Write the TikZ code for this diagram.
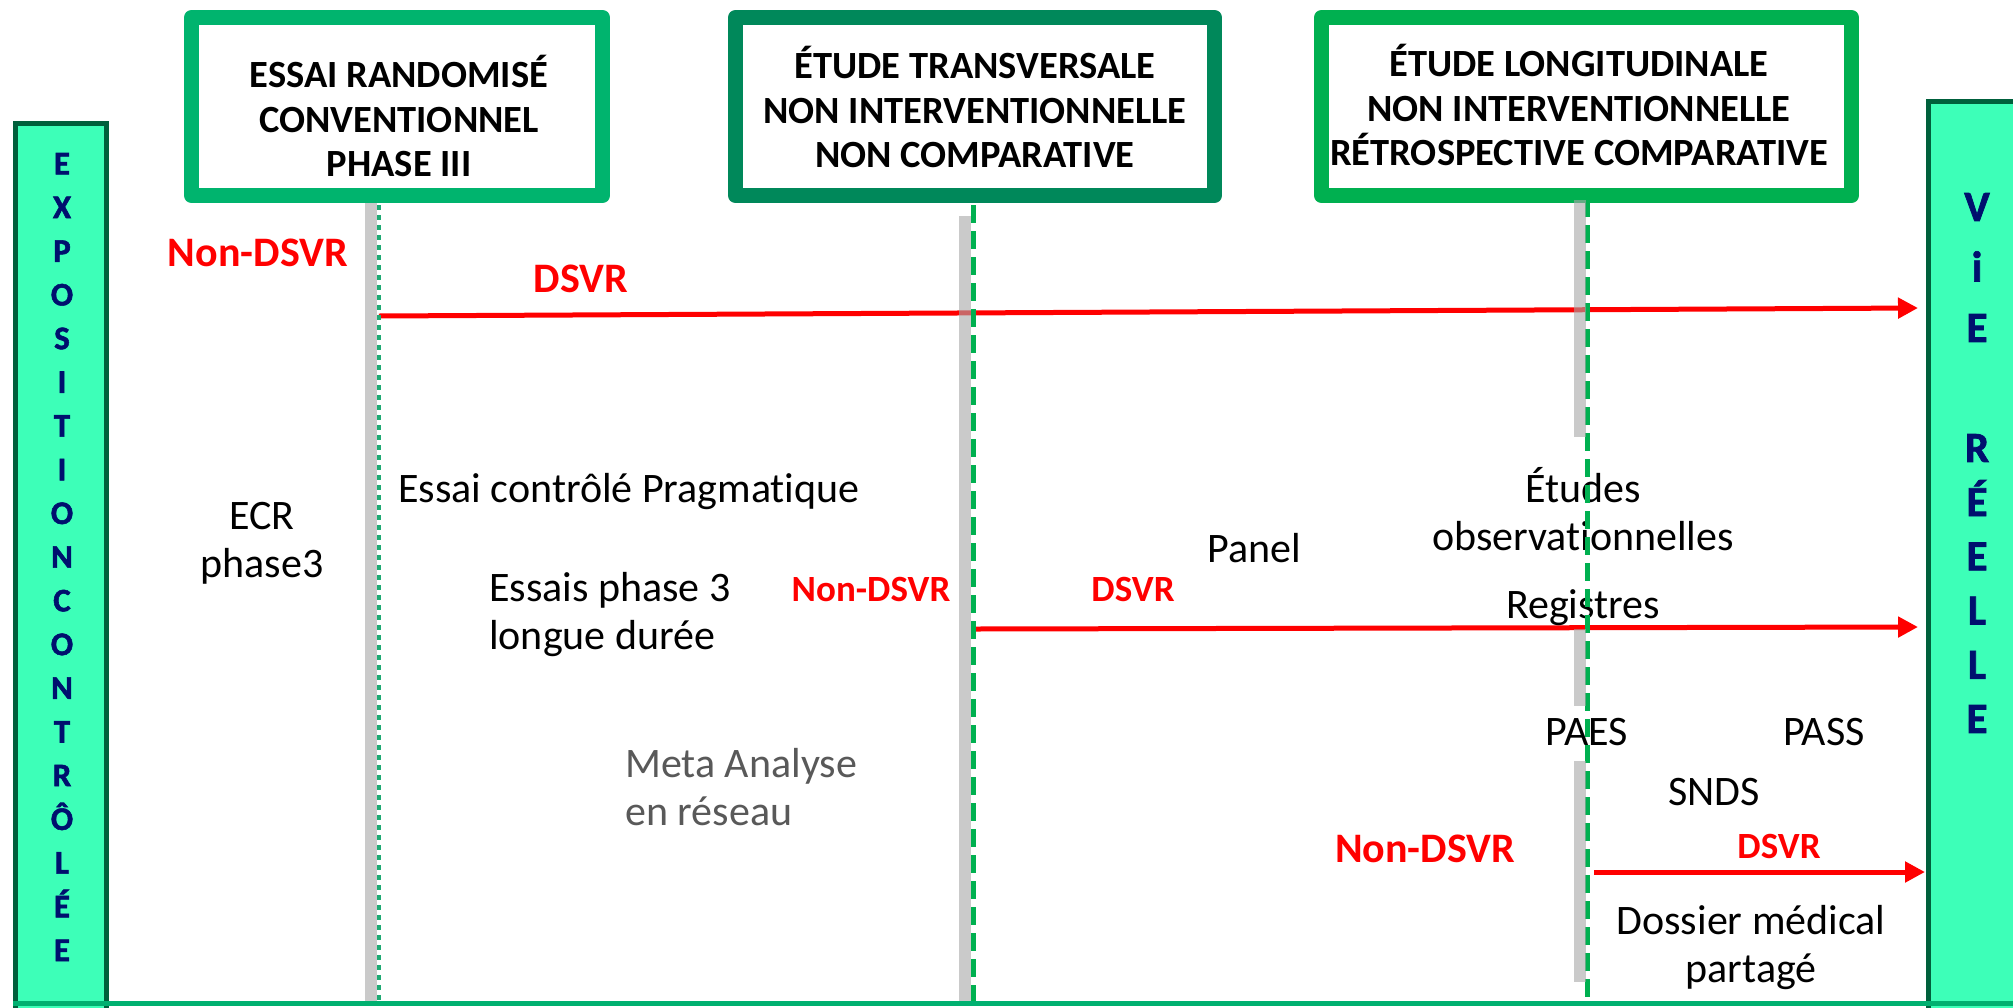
\documentclass[tikz,border=0pt]{standalone}
\usepackage{fontspec}
\setmainfont{Carlito}[Ligatures=NoCommon]
\newfontfamily\sidefont{Carlito}[BoldFeatures={FakeBold=1.6}]
\usetikzlibrary{arrows.meta}
\definecolor{sidefill}{HTML}{3DFFB8}
\definecolor{sidedraw}{HTML}{00603C}
\definecolor{sidetext}{HTML}{00106E}
\definecolor{boxa}{HTML}{00B46E}
\definecolor{boxb}{HTML}{00885A}
\definecolor{boxc}{HTML}{00B050}
\definecolor{bargray}{HTML}{A8A8A8}
\definecolor{metagray}{HTML}{595959}
\definecolor{basegreen}{HTML}{00B070}
\definecolor{dotgreen}{HTML}{1FAA74}
\definecolor{dashgreen}{HTML}{00B050}
\tikzset{
  sidebox/.style={draw=sidedraw, fill=sidefill, line width=5pt, inner sep=0pt},
  hbox/.style={draw=#1, line width=15pt, line join=round, fill=white, inner sep=0pt},
  htext/.style={font=\bfseries\fontsize{38.5}{44.5}\selectfont, align=center, inner sep=0pt},
  body/.style={font=\fontsize{42}{48}\selectfont, inner sep=0pt},
  redbig/.style={font=\bfseries\fontsize{42}{48}\selectfont, text=red, inner sep=0pt},
  redsmall/.style={font=\bfseries\fontsize{37}{44}\selectfont, text=red, inner sep=0pt},
  bar/.style={draw=bargray, line width=12pt, draw opacity=0.6},
  dotline/.style={draw=dotgreen, line width=4pt, dash pattern=on 5pt off 5pt},
  dashline/.style={draw=dashgreen, line width=5pt, dash pattern=on 18pt off 8pt},
  redarrow/.style={draw=red, line width=5pt, -{Triangle[length=20pt,width=20pt]}},
  ltxt/.style={font=\sidefont\bfseries\fontsize{33}{43.7}\selectfont, text=sidetext, align=center, inner sep=0pt},
  rtxta/.style={font=\sidefont\bfseries\fontsize{43}{60.5}\selectfont, text=sidetext, align=center, inner sep=0pt},
  rtxtb/.style={font=\sidefont\bfseries\fontsize{43}{54.2}\selectfont, text=sidetext, align=center, inner sep=0pt},
}
\begin{document}
\begin{tikzpicture}[x=1pt,y=-1pt]
\clip (0,0) rectangle (2013,1007);
\fill[white] (0,0) rectangle (2013,1007);

% side boxes
\node[sidebox, minimum width=91pt, minimum height=891.5pt] (lbox) at (61,569.25) {};
\node[sidebox, minimum width=91.5pt, minimum height=913.5pt] (rbox) at (1974.25,558.25) {};
\node[ltxt] (ltext) at (62,557) {E\\X\\P\\O\\S\\I\\T\\I\\O\\N\\C\\O\\N\\T\\R\\Ô\\L\\É\\E};
\node[rtxta] (rtexta) at (1977,267.5) {V\\i\\E};
\node[rtxtb] (rtextb) at (1977,583.5) {R\\É\\E\\L\\L\\E};

% header boxes
\node[hbox=boxa, minimum width=411pt, minimum height=178pt] (h1) at (397,106.5) {};
\node[hbox=boxb, minimum width=479pt, minimum height=178pt] (h2) at (975,106.5) {};
\node[hbox=boxc, minimum width=530pt, minimum height=178pt] (h3) at (1586.5,106.5) {};
\node[htext] (h1t) at (399,116) {ESSAI RANDOMISÉ\\CONVENTIONNEL\\PHASE III};
\node[htext] (h2t) at (975,107) {ÉTUDE TRANSVERSALE\\NON INTERVENTIONNELLE\\NON COMPARATIVE};
\node[htext] (h3t) at (1579,105) {ÉTUDE LONGITUDINALE\\NON INTERVENTIONNELLE\\RÉTROSPECTIVE COMPARATIVE};

% coordinates
\coordinate (v1t) at (379,205); \coordinate (v1b) at (379,1001);
\coordinate (v2t) at (973,205); \coordinate (v2b) at (973,1001);
\coordinate (v3t) at (1587,199); \coordinate (v3b) at (1587,1001);
\coordinate (a1s) at (379,316); \coordinate (a1e) at (1918,308);
\coordinate (a2s) at (976,629); \coordinate (a2e) at (1918,627);
\coordinate (a3s) at (1594,872); \coordinate (a3e) at (1925,872);

% red arrows
\draw[redarrow] (a1s) -- (a1e);
\draw[redarrow] (a2s) -- (a2e);
\draw[redarrow] (a3s) -- (a3e);

% texts
\node[body, align=center] (ecr) at (262,543) {ECR\\phase3};
\node[body, anchor=west] (ecp) at (398,492) {Essai contrôlé Pragmatique};
\node[body, anchor=west, align=left] (ep3) at (489,615) {Essais phase 3\\longue durée};
\node[body, anchor=west, align=left, text=metagray] (meta) at (625,787) {Meta Analyse\\en réseau};
\node[body] (panel) at (1254,548) {Panel};
\node[body, align=center] (etudes) at (1583,509) {Études\\observationnelles};
\node[body] (reg) at (1583,608) {Registres};
\node[body] (paes) at (1587,732) {PAES};
\node[body] (pass) at (1824,732) {PASS};
\node[body] (snds) at (1714,792) {SNDS};
\node[body, align=center] (dmp) at (1751,948) {Dossier médical\\partagé};

\node[redbig] (nd1) at (258,253) {Non-DSVR};
\node[redbig] (d1) at (581,279) {DSVR};
\node[redsmall] (nd2) at (871,589) {Non-DSVR};
\node[redsmall] (d2) at (1133,589) {DSVR};
\node[redbig] (nd3) at (1425,849) {Non-DSVR};
\node[redsmall] (d3) at (1779,846) {DSVR};

% green vertical lines
\draw[dotline] (v1t) -- (v1b);
\draw[dashline] (v2t) -- (v2b);
\draw[dashline] (v3t) -- (v3b);

% gray bars
\draw[bar] (371,203) -- (371,1001);
\draw[bar] (965,216) -- (965,1001);
\draw[bar] (1580,200) -- (1580,437);
\draw[bar] (1580,629) -- (1580,706);
\draw[bar] (1580,761) -- (1580,982);

% bottom line
\coordinate (bl) at (13,1003.5); \coordinate (br) at (2013,1003.5);
\draw[basegreen, line width=5pt] (bl) -- (br);
\end{tikzpicture}
\end{document}
